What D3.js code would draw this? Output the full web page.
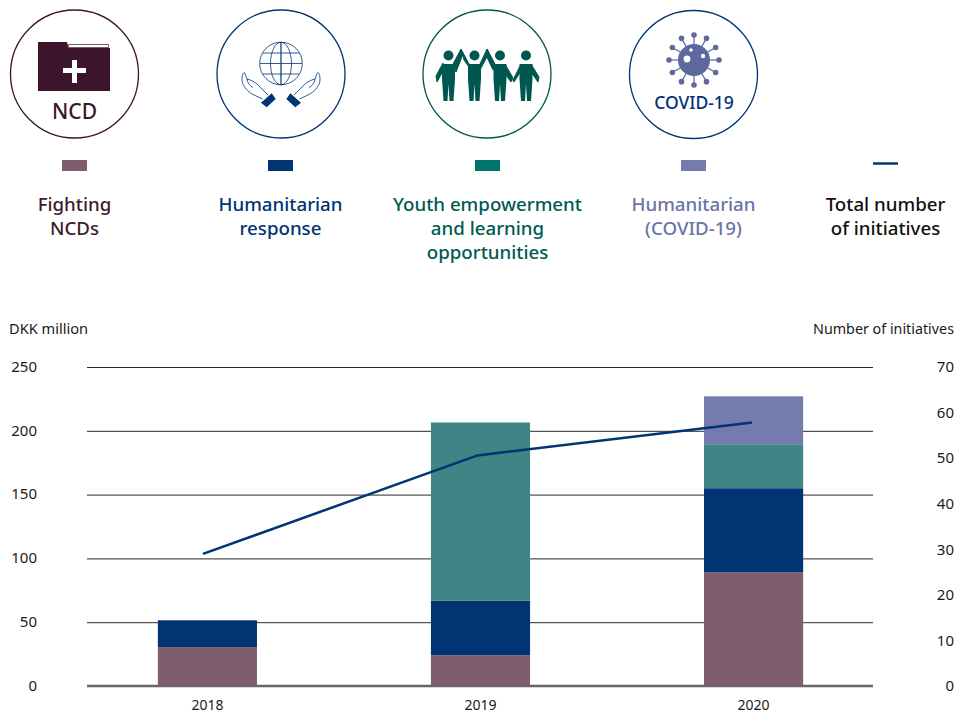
<!DOCTYPE html>
<html>
<head>
<meta charset="utf-8">
<script src="https://d3js.org/d3.v7.min.js"></script>
<style>
  html, body { margin: 0; padding: 0; background: #fff; }
  svg { display: block; font-family: "Noto Sans", sans-serif; }
</style>
</head>
<body>
<div id="chart"></div>
<script>
// chart data (DKK million per year)
const years = ['2018', '2019', '2020'];
const fightingNcds = [30.5, 24, 89];
const humanitarianResponse = [21, 43, 66];
const youthEmpowerment = [0, 139.5, 34.5];
const humanitarianCovid = [0, 0, 37.5];
const totalInitiatives = [29, 50.6, 57.8];

const leftTicks = [0, 50, 100, 150, 200, 250];
const rightTicks = [0, 10, 20, 30, 40, 50, 60, 70];

const seriesNames = ['ncd', 'humanitarian', 'youth', 'covid'];
const seriesValues = [fightingNcds, humanitarianResponse, youthEmpowerment, humanitarianCovid];
const barColors = ['#7e5e6c', '#003473', '#3f8585', '#737cac'];

const legendLabels = [
    ['Fighting', 'NCDs'],
    ['Humanitarian', 'response'],
    ['Youth empowerment', 'and learning', 'opportunities'],
    ['Humanitarian', '(COVID-19)'],
    ['Total number', 'of initiatives']
];
const legendTextColors = ['#3c1a2e', '#003473', '#005a52', '#6a74a8', '#111111'];
const legendSwatchColors = ['#7e5e6c', '#003473', '#00736c', '#737cac', '#003473'];
const legendCenters = [74.5, 280.5, 487.5, 693.5, 885.5];

const width = 956;
const height = 715;

const svg = d3.select('#chart').append('svg')
    .attr('width', width)
    .attr('height', height);

// scales
const x = d3.scaleBand().domain(years).range([71, 890]).paddingInner(0.637).paddingOuter(0.318);
const xLine = d3.scalePoint().domain(years).range([203, 752]);
const yLeft = d3.scaleLinear().domain([0, 250]).range([686, 367]);
const yRight = d3.scaleLinear().domain([0, 70]).range([686, 367]);

// gridlines
svg.append('g')
    .attr('transform', 'translate(87,0)')
    .call(d3.axisRight(yLeft).tickValues(leftTicks).tickSize(786).tickFormat(''))
    .call(g => g.select('.domain').remove())
    .selectAll('line')
    .attr('stroke', '#2a2a2a')
    .attr('stroke-width', 1);

// left axis labels
svg.append('g')
    .attr('transform', 'translate(37,-0.5)')
    .call(d3.axisLeft(yLeft).tickValues(leftTicks).tickSize(0).tickPadding(0))
    .call(g => g.select('.domain').remove())
    .selectAll('text')
    .attr('font-family', '"Noto Sans", sans-serif')
    .attr('font-size', 15)
    .attr('fill', '#1a1a1a');

// right axis labels
svg.append('g')
    .attr('transform', 'translate(954,0)')
    .call(d3.axisLeft(yRight).tickValues(rightTicks).tickSize(0).tickPadding(0))
    .call(g => g.select('.domain').remove())
    .selectAll('text')
    .attr('font-family', '"Noto Sans", sans-serif')
    .attr('font-size', 15)
    .attr('fill', '#1a1a1a');

// year labels
svg.append('g')
    .attr('transform', 'translate(0,686)')
    .call(d3.axisBottom(x).tickSize(0).tickPadding(14))
    .call(g => g.select('.domain').remove())
    .selectAll('text')
    .attr('font-family', '"Noto Sans", sans-serif')
    .attr('font-size', 14)
    .attr('fill', '#1a1a1a');

// axis titles
svg.append('text').text('DKK million')
    .attr('x', 9).attr('y', 334)
    .attr('font-size', 14.6).attr('fill', '#1a1a1a');
svg.append('text').text('Number of initiatives')
    .attr('x', 954).attr('y', 334)
    .attr('text-anchor', 'end')
    .attr('font-size', 14.3).attr('fill', '#1a1a1a');

// stacked bars
const table = years.map((year, i) => {
    const row = {year: year};
    seriesNames.forEach((name, s) => { row[name] = seriesValues[s][i]; });
    return row;
});
const stacked = d3.stack().keys(seriesNames)(table);

svg.append('g').selectAll('g')
    .data(stacked)
    .enter().append('g')
    .attr('fill', (d, i) => barColors[i])
    .selectAll('rect')
    .data(d => d)
    .enter().append('rect')
    .attr('x', d => x(d.data.year))
    .attr('y', d => yLeft(d[1]))
    .attr('width', x.bandwidth())
    .attr('height', d => yLeft(d[0]) - yLeft(d[1]));

// baseline sits on top of the bars
svg.append('line')
    .attr('x1', 87).attr('x2', 873)
    .attr('y1', yLeft(0)).attr('y2', yLeft(0))
    .attr('stroke', '#666666')
    .attr('stroke-width', 2.5);

// total number of initiatives
const line = d3.line()
    .x((d, i) => xLine(years[i]))
    .y(d => yRight(d));

svg.append('path')
    .datum(totalInitiatives)
    .attr('d', line)
    .attr('fill', 'none')
    .attr('stroke', '#003473')
    .attr('stroke-width', 2.5);

// legend
legendLabels.forEach((lines, i) => {
    const cx = legendCenters[i];
    if (i < 4) {
        svg.append('rect')
            .attr('x', cx - 12.5).attr('y', 160)
            .attr('width', 25).attr('height', 11)
            .attr('fill', legendSwatchColors[i]);
    } else {
        svg.append('line')
            .attr('x1', cx - 12.5).attr('x2', cx + 12.5)
            .attr('y1', 163.5).attr('y2', 163.5)
            .attr('stroke', legendSwatchColors[i])
            .attr('stroke-width', 2.5);
    }
    lines.forEach((label, j) => {
        svg.append('text').text(label)
            .attr('x', cx).attr('y', 211 + j * 24)
            .attr('text-anchor', 'middle')
            .attr('font-size', 18.7)
            .attr('font-weight', 500)
            .attr('fill', legendTextColors[i]);
    });
});

// icons above the legend
function ring(cx, cy, color) {
    svg.append('circle')
        .attr('cx', cx).attr('cy', cy).attr('r', 64)
        .attr('fill', 'none')
        .attr('stroke', color)
        .attr('stroke-width', 1.3);
}

// NCD folder
const wine = '#3c142c';
ring(74.5, 74, wine);
svg.append('path')
    .attr('d', 'M38,42 H67 L68.5,48 H110 V91 H38 Z')
    .attr('fill', wine);
svg.append('path')
    .attr('d', 'M68.5,44.5 H108.5 V47.5 H68.5 Z')
    .attr('fill', 'none')
    .attr('stroke', wine)
    .attr('stroke-width', 0.7);
svg.append('path')
    .attr('d', 'M72,60 H77 V68 H86 V73 H77 V83 H72 V73 H63 V68 H72 Z')
    .attr('fill', '#fff');
svg.append('text').text('NCD')
    .attr('x', 74.5).attr('y', 118.5)
    .attr('text-anchor', 'middle')
    .attr('font-size', 21).attr('font-weight', 500)
    .attr('fill', wine);

// globe in hands
const navy = '#003473';
ring(281, 74, navy);
const globe = svg.append('g')
    .attr('transform', 'translate(281,63.5)')
    .attr('fill', 'none')
    .attr('stroke', navy)
    .attr('stroke-width', 0.8);
globe.append('circle').attr('r', 21.3);
globe.append('ellipse').attr('rx', 10.5).attr('ry', 21.3);
globe.append('path').attr('d', 'M0,-21 V21').attr('stroke-width', 1.2);
globe.append('path').attr('d', 'M-21,0 H21 M-18,-10.5 H18 M-18,10.5 H18');
[1, -1].forEach(side => {
    const hand = svg.append('g')
        .attr('transform', `translate(281,0) scale(${side},1)`);
    hand.append('path')
        .attr('d', 'M-18.5,99 L-28,94.5 C-33,92 -37,87 -38.5,83 C-39.5,79 -39,74 -37,72.5 C-35.5,73 -35.5,76 -34,79 C-30,80 -26,82 -23,85 C-20,88 -16,92 -13,95 M-34,79 C-33.5,83 -31,86 -28,87.5')
        .attr('fill', 'none')
        .attr('stroke', navy)
        .attr('stroke-width', 0.8);
    hand.append('path')
        .attr('d', 'M-20,102.7 L-9.3,93.3 L-5.3,99 L-14.3,107.3 Z')
        .attr('fill', navy);
});

// people holding hands
const teal = '#00574f';
ring(487, 74, teal);
const heads = [448.5, 474.5, 500, 526];
heads.forEach(hx => {
    svg.append('circle').attr('cx', hx).attr('cy', 55.5).attr('r', 5).attr('fill', teal);
    svg.append('path')
        .attr('d', `M${hx - 6.5},64 H${hx + 6.5} V79 L${hx + 5},101 H${hx + 1} L${hx},84 L${hx - 1},101 H${hx - 5} L${hx - 6.5},79 Z`)
        .attr('fill', teal);
});
svg.append('path')
    .attr('d', 'M443,63 L436,76 L437,82 L443,71 Z M453,64 L461,49 L463,54 L456,72 Z M461,49 L469,64 L471,70 L464,60 Z M480,64 L487,49 L489,53 L480,70 Z M487,49 L495,64 L493,70 L486,55 Z M505,64 L513,78 L511,82 L503,71 Z M513,80 L521,64 L521,71 L514,82 Z M531,64 L539,77 L538,82 L531,72 Z')
    .attr('fill', teal)
    .attr('stroke', teal)
    .attr('stroke-width', 1);

// covid virus
const virusBlue = '#5c689e';
ring(693.5, 74.5, navy);
const virus = svg.append('g').attr('transform', 'translate(694,60)');
d3.range(12).forEach(k => {
    const a = k * Math.PI / 6;
    virus.append('line')
        .attr('x2', 25 * Math.sin(a)).attr('y2', -25 * Math.cos(a))
        .attr('stroke', virusBlue).attr('stroke-width', 1.2);
    virus.append('circle')
        .attr('cx', 25 * Math.sin(a)).attr('cy', -25 * Math.cos(a)).attr('r', 2.8)
        .attr('fill', virusBlue);
});
virus.append('circle').attr('r', 16).attr('fill', virusBlue);
virus.append('circle').attr('cx', -7).attr('cy', -1).attr('r', 3.4).attr('fill', '#fff');
virus.append('circle').attr('cx', -3).attr('cy', -10).attr('r', 1.8).attr('fill', '#fff');
virus.append('circle').attr('cx', 9).attr('cy', -4).attr('r', 2.2).attr('fill', '#fff');
svg.append('text').text('COVID-19')
    .attr('x', 694).attr('y', 109)
    .attr('text-anchor', 'middle')
    .attr('font-size', 17.5).attr('font-weight', 500)
    .attr('fill', navy);
</script>
</body>
</html>
